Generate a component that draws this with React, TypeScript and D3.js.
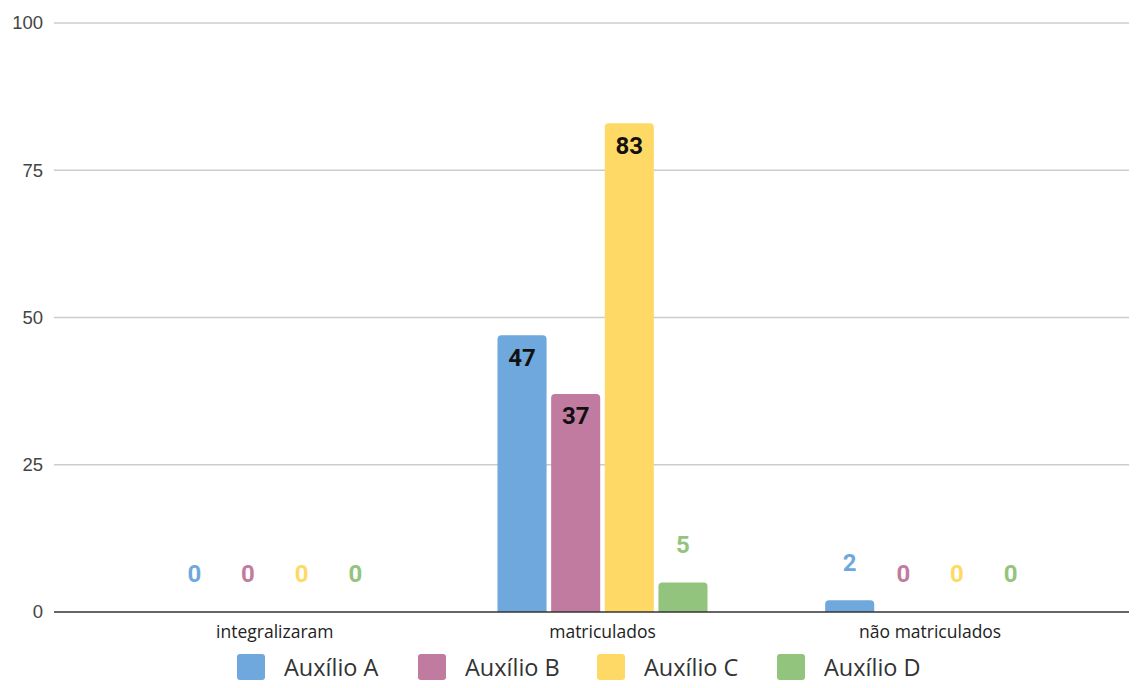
import { useEffect, useRef } from 'react';
import * as d3 from 'd3';

const categories = ['integralizaram', 'matriculados', 'não matriculados'];
const seriesNames = ['Auxílio A', 'Auxílio B', 'Auxílio C', 'Auxílio D'];
const auxilioA = [0, 47, 2];
const auxilioB = [0, 37, 0];
const auxilioC = [0, 83, 0];
const auxilioD = [0, 5, 0];
const yTicks = [0, 25, 50, 75, 100];
const colors = ['#6fa8dc', '#c27ba0', '#ffd966', '#93c47d'];

const WIDTH = 1137;
const HEIGHT = 688;

export default function App() {
  const svgRef = useRef<SVGSVGElement>(null);

  useEffect(() => {
    if (!svgRef.current) return;
    const svg = d3.select(svgRef.current);
    svg.selectAll('*').remove();

    const series = [auxilioA, auxilioB, auxilioC, auxilioD];
    const gridLeft = 54;
    const gridRight = WIDTH;

    const x0 = d3.scaleBand<string>().domain(categories).range([111, 1094]).padding(0);
    const x1 = d3
      .scaleBand<string>()
      .domain(seriesNames)
      .range([0, 210])
      .paddingInner(0.085)
      .paddingOuter(0);

    const y = d3.scaleLinear().domain([0, 100]).range([612, 23]);

    // Gridlines
    svg
      .append('g')
      .selectAll('line')
      .data(yTicks.filter((t) => t !== 0))
      .enter()
      .append('line')
      .attr('x1', gridLeft)
      .attr('x2', gridRight)
      .attr('y1', (d) => y(d))
      .attr('y2', (d) => y(d))
      .attr('stroke', '#cccccc')
      .attr('stroke-width', 1.5);

    // Y tick labels
    svg
      .append('g')
      .selectAll('text')
      .data(yTicks)
      .enter()
      .append('text')
      .attr('x', 43)
      .attr('y', (d) => y(d))
      .attr('dy', '0.35em')
      .attr('text-anchor', 'end')
      .attr('font-family', 'Liberation Sans, Arial, sans-serif')
      .attr('font-size', 18.5)
      .attr('fill', '#444')
      .text((d) => d);

    // Bars with rounded tops
    const rounded = (x: number, yTop: number, w: number, h: number, r: number) => {
      if (h <= 0) return '';
      const rr = Math.min(r, h, w / 2);
      return `M${x},${yTop + h}V${yTop + rr}Q${x},${yTop} ${x + rr},${yTop}H${x + w - rr}Q${x + w},${yTop} ${x + w},${yTop + rr}V${yTop + h}Z`;
    };

    categories.forEach((cat, ci) => {
      const groupX = (x0(cat) ?? 0) + x0.bandwidth() / 2 - 105;
      series.forEach((vals, si) => {
        const v = vals[ci];
        const bx = groupX + (x1(seriesNames[si]) ?? 0);
        const bw = x1.bandwidth();
        const top = y(v);
        const h = y(0) - top;
        svg
          .append('path')
          .attr('d', rounded(bx, top, bw, h, 4))
          .attr('fill', colors[si]);

        const inside = h > 40;
        svg
          .append('text')
          .attr('x', bx + bw / 2)
          .attr('y', inside ? top + 22 : top - 38)
          .attr('dy', '0.35em')
          .attr('text-anchor', 'middle')
          .attr('font-family', 'Roboto, sans-serif')
          .attr('font-weight', 700)
          .attr('font-size', 24)
          .attr('fill', inside ? '#111' : colors[si])
          .text(v);
      });
    });

    // Baseline
    svg
      .append('line')
      .attr('x1', gridLeft)
      .attr('x2', gridRight)
      .attr('y1', y(0))
      .attr('y2', y(0))
      .attr('stroke', '#333')
      .attr('stroke-width', 1.5);

    // Category labels
    svg
      .append('g')
      .selectAll('text')
      .data(categories)
      .enter()
      .append('text')
      .attr('x', (d) => (x0(d) ?? 0) + x0.bandwidth() / 2)
      .attr('y', 638)
      .attr('text-anchor', 'middle')
      .attr('font-family', 'Open Sans, sans-serif')
      .attr('font-size', 17.5)
      .attr('fill', '#222')
      .text((d) => d);

    // Legend
    const legendX = [237, 418, 597, 777];
    const legend = svg
      .append('g')
      .selectAll('g')
      .data(seriesNames)
      .enter()
      .append('g')
      .attr('transform', (_d, i) => `translate(${legendX[i]},654)`);

    legend
      .append('rect')
      .attr('width', 28)
      .attr('height', 26)
      .attr('rx', 3)
      .attr('fill', (_d, i) => colors[i]);

    legend
      .append('text')
      .attr('x', 47)
      .attr('y', 22)
      .attr('font-family', 'Open Sans, sans-serif')
      .attr('font-size', 23.5)
      .attr('fill', '#333')
      .text((d) => d);
  }, []);

  return (
    <div style={{ margin: -8 }}>
      <svg ref={svgRef} width={WIDTH} height={HEIGHT} style={{ display: 'block', background: '#fff' }} />
    </div>
  );
}
